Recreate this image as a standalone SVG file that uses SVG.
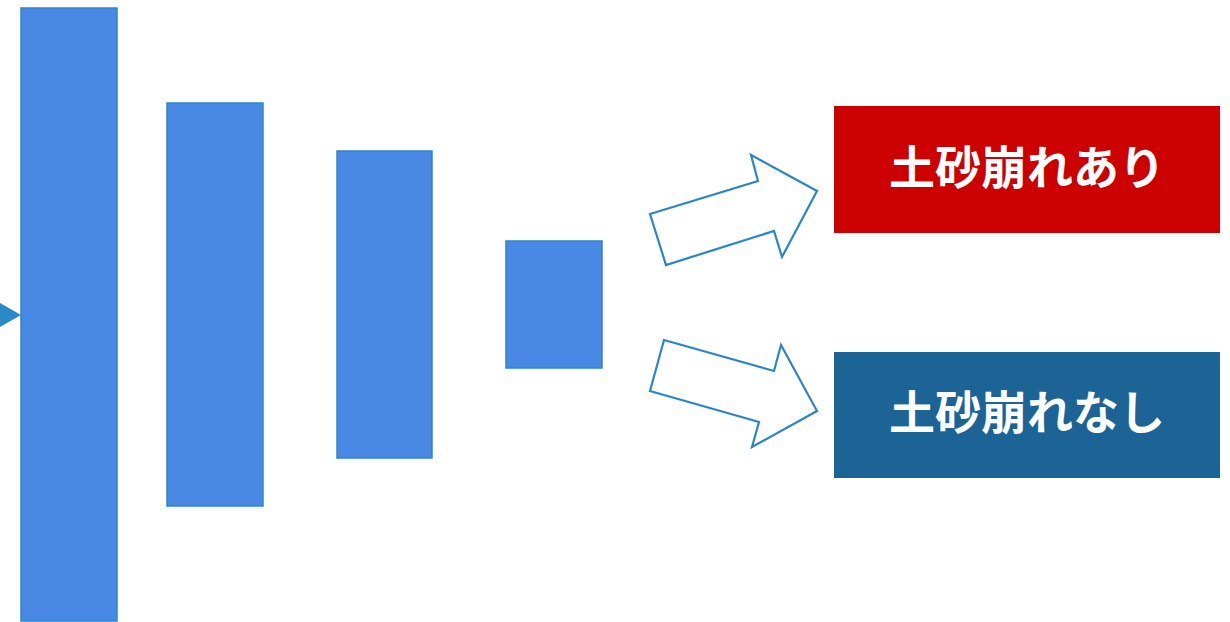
<svg xmlns="http://www.w3.org/2000/svg" width="1230" height="622" viewBox="0 0 1230 622">
  <style>
    .layer { fill: #4a88e5; stroke: #2a86c8; stroke-width: 1.5; }
    .flow { fill: #ffffff; stroke: #2a86c8; stroke-width: 2.2; stroke-linejoin: miter; }
    .label { font-family: "Noto Sans CJK JP", "Noto Sans", sans-serif; font-weight: bold; font-size: 46px; fill: #ffffff; text-anchor: middle; dominant-baseline: central; }
  </style>
  <rect width="1230" height="622" fill="#ffffff"/>

  <!-- input pointer -->
  <g id="input">
    <polygon points="0,303 21,315 0,327" fill="#2a8ac8"/>
  </g>

  <!-- network layers -->
  <g id="layer1"><rect class="layer" x="21" y="8" width="96" height="613"/></g>
  <g id="layer2"><rect class="layer" x="167" y="103" width="96" height="403"/></g>
  <g id="layer3"><rect class="layer" x="337" y="151" width="95" height="307"/></g>
  <g id="layer4"><rect class="layer" x="506" y="241" width="96" height="127"/></g>

  <!-- block arrows to outputs -->
  <g id="connectors">
    <polygon class="flow" points="650,214 758,181 751,155 817,191 782,257 774,231 666,265"/>
    <polygon class="flow" points="664,340 774,371 781,345 817,411 752,447 759,422 650,391"/>
  </g>

  <!-- output classes -->
  <g id="out-yes">
    <rect x="834" y="106" width="386" height="127" fill="#cc0000"/>
    <text class="label" x="1027" y="164">土砂崩れあり</text>
  </g>
  <g id="out-no">
    <rect x="834" y="352" width="386" height="126" fill="#1c6496"/>
    <text class="label" x="1027" y="409">土砂崩れなし</text>
  </g>
</svg>
